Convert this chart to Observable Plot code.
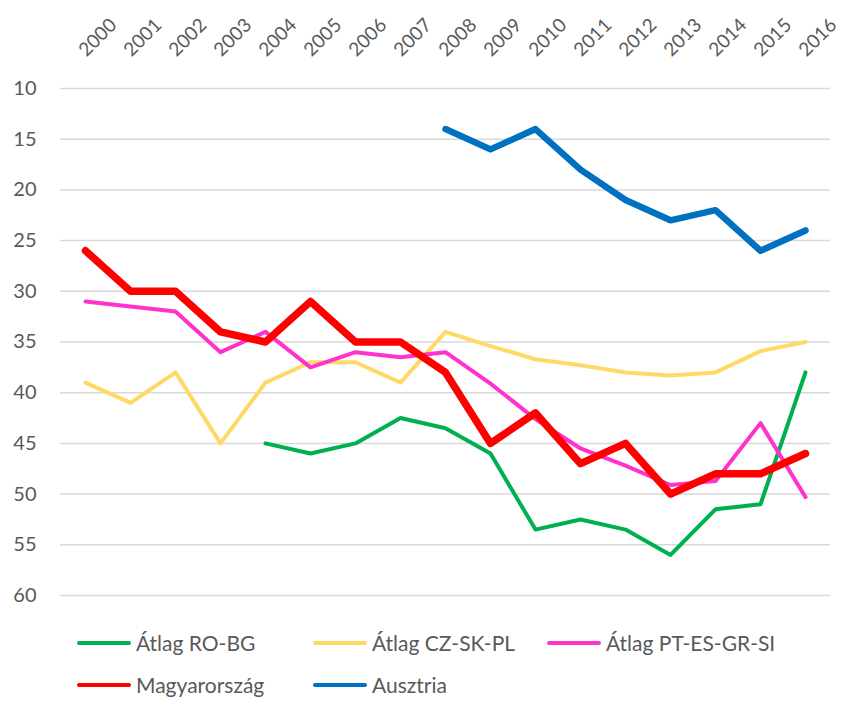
<!DOCTYPE html>
<html>
<head>
<meta charset="utf-8">
<script src="https://cdn.jsdelivr.net/npm/d3@7"></script>
<script src="https://cdn.jsdelivr.net/npm/@observablehq/plot@0.6"></script>
<style>
  html, body { margin: 0; padding: 0; background: #fff; }
  body { width: 847px; height: 702px; overflow: hidden; font-family: Lato, sans-serif; }
  #chart svg { display: block; }
  #legend { padding-left: 77px; padding-top: 10px; color: #595959; font-size: 21px; line-height: 24px; }
  .row { height: 42px; display: flex; align-items: center; }
  .item { display: flex; align-items: center; }
  .sw { width: 54px; height: 4px; border-radius: 2px; margin-right: 5px; }
</style>
</head>
<body>
<div id="chart"></div>
<div id="legend"></div>
<script>
const years = [2000,2001,2002,2003,2004,2005,2006,2007,2008,2009,2010,2011,2012,2013,2014,2015,2016];
const seriesNames = ["Átlag RO-BG", "Átlag CZ-SK-PL", "Átlag PT-ES-GR-SI", "Magyarország", "Ausztria"];
const roBg     = [null,null,null,null,45,46,45,42.5,43.5,46,53.5,52.5,53.5,56,51.5,51,38];
const czSkPl   = [39,41,38,45,39,37,37,39,34,35.4,36.7,37.3,38,38.3,38,35.9,35];
const ptEsGrSi = [31,31.5,32,36,34,37.5,36,36.5,36,39.1,42.6,45.5,47.2,49.1,48.7,43,50.3];
const hungary  = [26,30,30,34,35,31,35,35,38,45,42,47,45,50,48,48,46];
const austria  = [null,null,null,null,null,null,null,null,14,16,14,18,21,23,22,26,24];
const yTicks = [10,15,20,25,30,35,40,45,50,55,60];

const colors = ["#00B050", "#FFD966", "#FF33CC", "#FF0000", "#0070C0"];
const widths = [4, 4, 4, 7.5, 6.5];
const allValues = [roBg, czSkPl, ptEsGrSi, hungary, austria];

const rows = allValues.map(vals => years.map((y, i) => ({year: y, value: vals[i]})).filter(d => d.value != null));

const plot = Plot.plot({
  width: 847,
  height: 612,
  marginTop: 88,
  marginBottom: 17,
  marginLeft: 60,
  marginRight: 17,
  style: {fontFamily: "Lato, sans-serif", fontSize: "20px", color: "#595959", background: "#fff", overflow: "visible"},
  x: {type: "point", domain: years, padding: 0.5, axis: null},
  y: {domain: [10, 60], reverse: true, axis: null},
  marks: [
    Plot.gridY(yTicks, {stroke: "#D9D9D9", strokeOpacity: 1, strokeWidth: 1.5}),
    Plot.axisY(yTicks, {tickSize: 0, tickPadding: 24, textAnchor: "end", fontSize: 20, fill: "#595959", label: null, tickFormat: d => String(d)}),
    Plot.text(years, {x: d => d, text: d => String(d), frameAnchor: "top", dy: -31, dx: 1, rotate: -45, textAnchor: "start", lineAnchor: "bottom", fontSize: 19, fill: "#595959"}),
    ...rows.map((r, i) => Plot.line(r, {x: "year", y: "value", stroke: colors[i], strokeWidth: widths[i], strokeLinecap: "round", strokeLinejoin: "round"}))
  ]
});
document.getElementById("chart").appendChild(plot);

const legend = document.getElementById("legend");
const layout = [[0, 1, 2], [3, 4]];
const colW = [236, 234, 260];
layout.forEach(r => {
  const row = document.createElement("div");
  row.className = "row";
  r.forEach((si, ci) => {
    const it = document.createElement("div");
    it.className = "item";
    it.style.width = colW[ci] + "px";
    const sw = document.createElement("div");
    sw.className = "sw";
    sw.style.background = colors[si];
    const t = document.createElement("span");
    t.textContent = seriesNames[si];
    it.appendChild(sw); it.appendChild(t);
    row.appendChild(it);
  });
  legend.appendChild(row);
});
</script>
</body>
</html>
